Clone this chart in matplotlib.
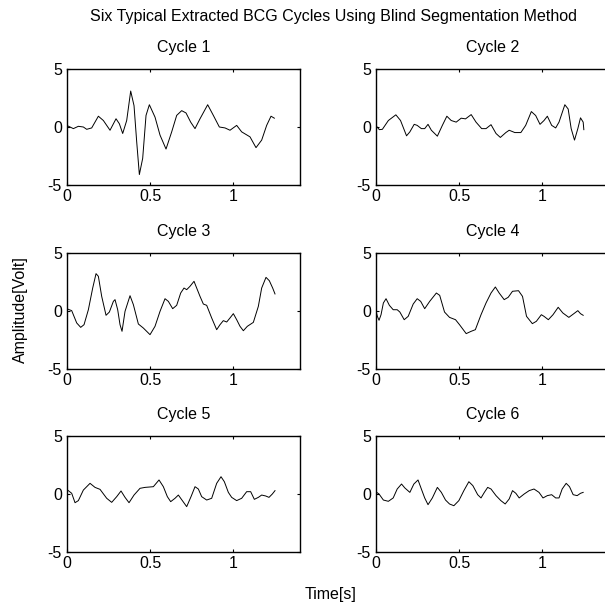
import matplotlib
matplotlib.use("Agg")
import matplotlib.pyplot as plt

# Valores (tiempo en s, amplitud en V)
t1 = [0, 0.04, 0.07, 0.1, 0.12, 0.15, 0.19, 0.22, 0.26, 0.296, 0.316, 0.336, 0.36,
      0.384, 0.404, 0.42, 0.436, 0.456, 0.476, 0.496, 0.53, 0.56, 0.596, 0.63, 0.66,
      0.69, 0.716, 0.744, 0.77, 0.8, 0.846, 0.88, 0.916, 0.95, 0.98, 1.02, 1.05, 1.1,
      1.136, 1.17, 1.2, 1.226, 1.246]
v1 = [0.14, -0.14, 0.06, 0, -0.2, -0.08, 0.93, 0.56, -0.28, 0.71, 0.28, -0.56, 0.56,
      3.1, 1.84, -1.27, -4.1, -2.7, 1.0, 1.92, 0.85, -0.7, -1.9, -0.42, 1.0,
      1.41, 1.21, 0.42, -0.14, 0.71, 1.92, 1.0, 0, -0.08, -0.28, 0.14, -0.42, -0.85,
      -1.78, -1.13, 0.14, 0.93, 0.76]

t2 = [0, 0.022, 0.04, 0.076, 0.121, 0.149, 0.185, 0.205, 0.231, 0.249, 0.274, 0.294,
      0.314, 0.334, 0.37, 0.4, 0.427, 0.453, 0.483, 0.513, 0.539, 0.573, 0.602, 0.636,
      0.662, 0.692, 0.722, 0.748, 0.781, 0.801, 0.835, 0.871, 0.9, 0.934, 0.96, 0.986,
      1.01, 1.03, 1.056, 1.08, 1.1, 1.135, 1.155, 1.173, 1.193, 1.213, 1.229, 1.245, 1.249]
v2 = [0.14, -0.23, -0.2, 0.56, 1.05, 0.56, -0.76, -0.42, 0.23, 0.14, -0.14, -0.14,
      0.23, -0.28, -0.79, 0.14, 0.93, 0.56, 0.42, 0.76, 0.7, 1.07, 0.42, -0.14,
      -0.14, 0.2, -0.56, -0.9, -0.48, -0.28, -0.48, -0.48, 0.14, 1.33, 0.99, 0.23,
      0.56, 0.93, 0.14, -0.08, 0.42, 1.92, 1.55, -0.14, -1.13, -0.14, 0.79, 0.42, -0.23]

t3 = [0, 0.03, 0.06, 0.084, 0.104, 0.13, 0.156, 0.176, 0.19, 0.21, 0.236, 0.256, 0.28,
      0.29, 0.306, 0.32, 0.332, 0.35, 0.38, 0.4, 0.43, 0.46, 0.5, 0.53, 0.56, 0.59,
      0.61, 0.636, 0.66, 0.684, 0.704, 0.72, 0.74, 0.764, 0.78, 0.8, 0.82, 0.84, 0.87,
      0.9, 0.92, 0.94, 0.96, 0.98, 1.0, 1.02, 1.04, 1.06, 1.084, 1.12, 1.15, 1.17,
      1.196, 1.216, 1.236, 1.25]
v3 = [0.2, 0.03, -1.03, -1.41, -1.18, 0.11, 1.98, 3.22, 2.99, 1.26, -0.37, -0.09, 0.83,
      0.98, 0.11, -1.18, -1.75, -0.03, 1.32, 0.55, -1.12, -1.47, -2.04, -1.32, -0.03, 1.06,
      0.83, 0.2, 0.49, 1.55, 1.98, 1.84, 2.13, 2.56, 1.98, 1.26, 0.6, 0.49, -0.6,
      -1.61, -1.18, -0.83, -0.95, -0.6, -0.23, -0.75, -1.32, -1.7, -1.32, -0.98, 0.4, 1.98,
      2.9, 2.61, 1.98, 1.47]

t4 = [0, 0.01, 0.02, 0.032, 0.046, 0.062, 0.082, 0.105, 0.129, 0.145, 0.171, 0.195,
      0.225, 0.249, 0.27, 0.294, 0.324, 0.364, 0.384, 0.413, 0.443, 0.479, 0.503, 0.543,
      0.573, 0.598, 0.632, 0.662, 0.692, 0.718, 0.741, 0.771, 0.795, 0.821, 0.857, 0.881,
      0.905, 0.94, 0.964, 0.994, 1.01, 1.036, 1.064, 1.095, 1.123, 1.159, 1.189, 1.213,
      1.229, 1.245]
v4 = [0.11, -0.46, -0.8, -0.32, 0.69, 1.06, 0.49, 0.11, 0.11, -0.09, -0.75, -0.46,
      0.6, 1.06, 0.83, 0.2, 0.83, 1.55, 1.35, -0.09, -0.55, -0.75, -1.18, -1.95,
      -1.75, -1.61, -0.32, 0.69, 1.55, 2.07, 1.55, 0.98, 1.18, 1.7, 1.75, 1.26,
      -0.46, -1.09, -0.89, -0.32, -0.46, -0.75, -0.32, 0.32, -0.17, -0.55, -0.23, 0.03,
      -0.23, -0.37]

t5 = [0, 0.03, 0.05, 0.07, 0.1, 0.14, 0.17, 0.2, 0.24, 0.27, 0.3, 0.326, 0.35, 0.374,
      0.404, 0.44, 0.47, 0.52, 0.554, 0.58, 0.604, 0.624, 0.65, 0.67, 0.694, 0.72,
      0.746, 0.77, 0.79, 0.81, 0.84, 0.87, 0.9, 0.926, 0.946, 0.97, 0.99, 1.02, 1.05,
      1.08, 1.104, 1.126, 1.15, 1.17, 1.194, 1.214, 1.234, 1.25]
v5 = [0.4, 0.06, -0.75, -0.57, 0.34, 0.92, 0.57, 0.4, -0.37, -0.72, -0.23, 0.26, -0.29,
      -0.75, -0.09, 0.49, 0.57, 0.63, 1.21, 0.63, -0.23, -0.66, -0.37, -0.09, -0.57, -1.09,
      -0.23, 0.63, 0.43, -0.23, -0.52, -0.37, 0.92, 1.49, 1.06, 0.14, -0.29, -0.57, -0.37,
      0.2, 0.2, -0.46, -0.29, -0.09, -0.17, -0.29, 0, 0.29]

t6 = [0, 0.02, 0.046, 0.076, 0.105, 0.129, 0.155, 0.175, 0.205, 0.229, 0.254, 0.274,
      0.294, 0.314, 0.34, 0.37, 0.394, 0.419, 0.443, 0.469, 0.499, 0.529, 0.559, 0.583,
      0.612, 0.632, 0.652, 0.672, 0.692, 0.722, 0.751, 0.777, 0.801, 0.821, 0.841, 0.861,
      0.891, 0.921, 0.95, 0.98, 1.004, 1.03, 1.056, 1.08, 1.1, 1.119, 1.143, 1.163,
      1.185, 1.209, 1.229, 1.245]
v6 = [0.2, 0, -0.52, -0.63, -0.34, 0.43, 0.86, 0.52, 0.14, 0.86, 1.21, 0.43,
      -0.34, -0.92, -0.34, 0.57, 0.14, -0.52, -0.86, -1.01, -0.57, 0.29, 1.06, 0.72,
      -0.06, -0.34, 0.14, 0.57, 0.43, -0.14, -0.57, -0.86, -0.43, 0.29, 0.06, -0.34,
      0, 0.29, 0.43, 0.14, -0.34, -0.14, -0.06, -0.34, -0.34, 0.43, 0.92, 0.63,
      -0.06, -0.14, 0.06, 0.14]

times = [t1, t2, t3, t4, t5, t6]
values = [v1, v2, v3, v4, v5, v6]
titles = ["Cycle 1", "Cycle 2", "Cycle 3", "Cycle 4", "Cycle 5", "Cycle 6"]
xticks = [0, 0.5, 1]
xticklabels = ["0", "0.5", "1"]
yticks = [-5, 0, 5]
yticklabels = ["-5", "0", "5"]

plt.rcParams["font.family"] = "Liberation Sans"
fs = 11.5

fig = plt.figure(figsize=(6.05, 6.04), dpi=100)
W, H = 605, 604
lefts = [66.7, 375.7]
tops = [69, 253, 436]
aw, ah = 233.3, 116

for i in range(6):
    row, col = divmod(i, 2)
    ax = fig.add_axes([lefts[col] / W, 1 - (tops[row] + ah) / H, aw / W, ah / H])
    ax.plot(times[i], values[i], color="black", linewidth=0.7)
    ax.set_xlim(0, 1.4)
    ax.set_ylim(-5, 5)
    ax.set_xticks(xticks)
    ax.set_xticklabels(xticklabels)
    ax.set_yticks(yticks)
    ax.set_yticklabels(yticklabels)
    ax.tick_params(direction="in", length=2.5, width=0.8, top=True, right=True,
                   labelsize=fs)
    ax.tick_params(axis="y", pad=3.5)
    ax.tick_params(axis="x", pad=3)
    for s in ax.spines.values():
        s.set_linewidth(1.0)
    ax.set_title(titles[i], fontsize=fs, pad=12)

fig.text(334 / W, 1 - 16 / H, "Six Typical Extracted BCG Cycles Using Blind Segmentation Method",
         ha="center", va="center", fontsize=fs)
fig.text(20 / W, 1 - 310 / H, "Amplitude[Volt]", rotation=90, ha="center", va="center",
         fontsize=fs)
fig.text(331 / W, 1 - 595 / H, "Time[s]", ha="center", va="center", fontsize=fs)

fig.savefig("out.png", dpi=100)
